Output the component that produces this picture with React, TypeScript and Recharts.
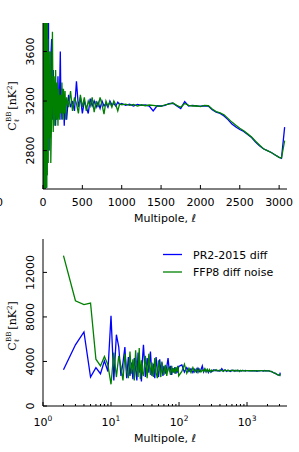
import React from "react";
import { LineChart, Line, XAxis, YAxis } from "recharts";

// multipole bins shared by both panels
const multipoles = [
  2, 3, 4, 5, 6, 7, 8, 9, 10, 11, 12, 13, 14, 15, 16, 17, 18, 19, 20, 21, 22, 23, 24, 25, 26, 27, 28, 29, 30,
  32, 34, 36, 38, 40, 42, 44, 46, 48, 50, 52, 54, 56, 58, 60,
  63, 66, 69, 72, 75, 78, 81, 84, 87, 90, 93, 96, 99,
  110, 120, 130, 140, 150, 160, 170, 180, 190, 200, 210, 220, 230, 240, 250, 260, 270, 280, 290, 300,
  325, 350, 375, 400, 425, 450, 475, 500, 525, 550, 575, 600, 625, 650, 675, 700, 725, 750, 775, 800,
  825, 850, 875, 900, 925, 950, 975, 1000,
  1050, 1100, 1150, 1200, 1250, 1300, 1350, 1400, 1450, 1500, 1550, 1600, 1650, 1700, 1750, 1800, 1850,
  1900, 1950, 2000, 2050, 2100, 2150, 2200, 2250, 2300, 2350, 2400, 2450, 2500, 2550, 2600, 2650, 2700,
  2750, 2800, 2850, 2900, 2950, 3000, 3030, 3070,
];

const pr2Diff = [
  3250, 5500, 6650, 2600, 3450, 2900, 4050, 3100, 8100, 2300, 6400, 5300, 2700, 3900, 5300, 2500, 4400,
  2700, 3900, 2400, 4300, 3300, 2300, 4800, 3000, 3700, 2200, 4200, 5500,
  2600, 4300, 3000, 4900, 2700, 3800, 2500, 4400, 3200, 2600, 4200, 3000, 3900, 2700, 3600,
  2900, 3500, 4300, 3100, 3600, 2800, 3400, 3000, 3500, 2900, 3300, 3000, 3550,
  3700, 3050, 3450, 3100, 3350, 3000, 3300, 3050, 3400, 3100, 3250, 3600, 3050, 3300, 3100, 3250, 3000,
  3200, 3100, 3050,
  3250, 3150, 3200, 3120, 3360, 3150, 3230, 3100, 3200, 3150, 3100, 3220, 3160, 3200, 3150, 3190, 3140,
  3200, 3160, 3180, 3150, 3200, 3170, 3180, 3160, 3190, 3170, 3180,
  3165, 3175, 3160, 3172, 3165, 3168, 3160, 3120, 3162, 3160, 3165, 3180, 3182, 3160, 3140, 3195, 3160,
  3165, 3160, 3158, 3162, 3160, 3130, 3110, 3100, 3080, 3050, 3015, 2990, 2970, 2955, 2930, 2905, 2870,
  2840, 2815, 2800, 2785, 2765, 2745, 2738, 2990,
];

const ffp8DiffNoise = [
  13500, 9450, 9100, 9250, 4200, 3600, 4450, 3700, 1950, 4800, 2600, 4500, 3500, 2300, 4700, 3100, 2500,
  4900, 2900, 4200, 2300, 5000, 3300, 2600, 5200, 2400, 4100, 3000, 2700,
  4500, 2500, 4700, 2800, 3900, 2600, 4300, 3000, 2500, 4100, 3300, 2600, 4000, 3100, 2800,
  3700, 2700, 3500, 3300, 2800, 3600, 3000, 3400, 2900, 3500, 3100, 3600, 2700,
  3100, 3760, 2950, 3400, 3000, 3450, 3050, 3350, 3000, 3300, 3050, 3250, 3100, 3350, 3050, 3300, 3100,
  3280, 3050, 3230,
  3150, 3280, 3120, 3230, 3180, 3100, 3250, 3150, 3230, 3120, 3200, 3160, 3230, 3110, 3200, 3150, 3230,
  3170, 3095, 3200, 3160, 3190, 3150, 3200, 3170, 3120, 3180, 3170,
  3175, 3165, 3172, 3160, 3170, 3162, 3168, 3165, 3160, 3158, 3170, 3175, 3185, 3165, 3150, 3180, 3165,
  3160, 3162, 3155, 3165, 3162, 3135, 3115, 3105, 3090, 3060, 3030, 3005, 2980, 2960, 2935, 2910, 2875,
  2845, 2815, 2800, 2785, 2765, 2745, 2740, 2880,
];

const linearTicks = [0, 500, 1000, 1500, 2000, 2500, 3000];
const linearYTicks = [2800, 3200, 3600];
const logTicks = [
  1, 2, 3, 4, 5, 6, 7, 8, 9, 10, 20, 30, 40, 50, 60, 70, 80, 90, 100, 200, 300, 400, 500, 600, 700,
  800, 900, 1000, 2000, 3000,
];
const decades = [1, 10, 100, 1000];
const logYTicks = [0, 4000, 8000, 12000];
const seriesNames = ["PR2-2015 diff", "FFP8 diff noise"];
const seriesColors = ["#0000ff", "#008000"];

const FONT = "DejaVu Sans";

const data = multipoles.map((ell, i) => ({
  ell,
  pr2: pr2Diff[i],
  ffp8: ffp8DiffNoise[i],
}));

const isMajor = (v: number, log: boolean) => !log || decades.includes(v);

const BottomTick = (props: any) => {
  const { x, y, payload, log } = props;
  const v = payload.value;
  const major = isMajor(v, log);
  return (
    <g>
      <line x1={x} y1={y} x2={x} y2={y - (major ? 4 : 2)} stroke="#000" />
      {major &&
        (log ? (
          <text x={x} y={y + 20} textAnchor="middle" fontFamily={FONT} fontSize={11} fill="#000">
            10
            <tspan fontSize={7.5} dy={-5}>
              {decades.indexOf(v)}
            </tspan>
          </text>
        ) : (
          <text x={x} y={y + 17} textAnchor="middle" fontFamily={FONT} fontSize={11} fill="#000">
            {v}
          </text>
        ))}
    </g>
  );
};

const TopTick = (props: any) => {
  const { x, y, payload, log } = props;
  const major = isMajor(payload.value, log);
  return <line x1={x} y1={y} x2={x} y2={y + (major ? 4 : 2)} stroke="#000" />;
};

const LeftTick = (props: any) => {
  const { x, y, payload } = props;
  const tx = x - 13;
  return (
    <g>
      <line x1={x} y1={y} x2={x + 4} y2={y} stroke="#000" />
      <text
        x={tx}
        y={y}
        dy="0.35em"
        transform={`rotate(-90, ${tx}, ${y})`}
        textAnchor="middle"
        fontFamily={FONT}
        fontSize={11}
        fill="#000"
      >
        {payload.value}
      </text>
    </g>
  );
};

const RightTick = (props: any) => {
  const { x, y } = props;
  return <line x1={x} y1={y} x2={x - 4} y2={y} stroke="#000" />;
};

interface PanelProps {
  height: number;
  top: number;
  bottom: number;
  log: boolean;
  xDomain: [number, number];
  yDomain: [number, number];
  xTicks: number[];
  yTicks: number[];
}

const Panel: React.FC<PanelProps> = ({ height, top, bottom, log, xDomain, yDomain, xTicks, yTicks }) => (
  <LineChart width={299} height={height} data={data} margin={{ top, right: 12, bottom, left: 0 }}>
    <XAxis
      dataKey="ell"
      type="number"
      scale={log ? "log" : "linear"}
      domain={xDomain}
      allowDataOverflow
      ticks={xTicks}
      interval={0}
      height={30}
      tickSize={0}
      tickMargin={0}
      tickLine={false}
      axisLine={{ stroke: "#000" }}
      tick={(p: any) => <BottomTick {...p} log={log} />}
    />
    <XAxis
      xAxisId="top"
      orientation="top"
      dataKey="ell"
      type="number"
      scale={log ? "log" : "linear"}
      domain={xDomain}
      allowDataOverflow
      ticks={xTicks}
      interval={0}
      height={0}
      tickSize={0}
      tickMargin={0}
      tickLine={false}
      axisLine={{ stroke: "#000" }}
      tick={(p: any) => <TopTick {...p} log={log} />}
    />
    <YAxis
      type="number"
      domain={yDomain}
      allowDataOverflow
      ticks={yTicks}
      interval={0}
      width={43}
      tickSize={0}
      tickMargin={0}
      tickLine={false}
      axisLine={{ stroke: "#000" }}
      tick={(p: any) => <LeftTick {...p} />}
    />
    <YAxis
      yAxisId="right"
      orientation="right"
      type="number"
      domain={yDomain}
      allowDataOverflow
      ticks={yTicks}
      interval={0}
      width={0}
      tickSize={0}
      tickMargin={0}
      tickLine={false}
      axisLine={{ stroke: "#000" }}
      tick={(p: any) => <RightTick {...p} />}
    />
    <Line
      dataKey="pr2"
      name={seriesNames[0]}
      type="linear"
      stroke={seriesColors[0]}
      strokeWidth={1.3}
      dot={false}
      isAnimationActive={false}
    />
    <Line
      dataKey="ffp8"
      name={seriesNames[1]}
      type="linear"
      stroke={seriesColors[1]}
      strokeWidth={1.3}
      dot={false}
      isAnimationActive={false}
    />
  </LineChart>
);

const YLabel = ({ cx, cy }: { cx: number; cy: number }) => (
  <text
    x={cx}
    y={cy}
    transform={`rotate(-90, ${cx}, ${cy})`}
    textAnchor="middle"
    fontFamily="DejaVu Serif"
    fontSize={11}
    fill="#000"
  >
    C
    <tspan fontSize={7} dy={3}>
      ℓ
    </tspan>
    <tspan fontSize={7} dx={-3} dy={-8}>
      BB
    </tspan>
    <tspan fontSize={11} dx={2} dy={5}>
      [nK
    </tspan>
    <tspan fontSize={7} dy={-4}>
      2
    </tspan>
    <tspan fontSize={11} dy={4}>
      ]
    </tspan>
  </text>
);

export default function App() {
  return (
    <div style={{ position: "absolute", left: 0, top: 0, width: 299, height: 452, background: "#fff" }}>
      <div style={{ position: "absolute", left: 0, top: 0 }}>
        <Panel
          height={230}
          top={23}
          bottom={11}
          log={false}
          xDomain={[0, 3100]}
          yDomain={[2490, 3830]}
          xTicks={linearTicks}
          yTicks={linearYTicks}
        />
      </div>
      <div style={{ position: "absolute", left: 0, top: 230 }}>
        <Panel
          height={222}
          top={9}
          bottom={16}
          log={true}
          xDomain={[1, 3870]}
          yDomain={[0, 15000]}
          xTicks={logTicks}
          yTicks={logYTicks}
        />
      </div>
      <svg
        width={299}
        height={452}
        style={{ position: "absolute", left: 0, top: 0, pointerEvents: "none", overflow: "visible" }}
      >
        <text x={-4} y={206} fontFamily={FONT} fontSize={11} fill="#000">
          0
        </text>
        <YLabel cx={16} cy={106} />
        <YLabel cx={16} cy={326} />
        <text x={165} y={222} textAnchor="middle" fontFamily={FONT} fontSize={11} fill="#000">
          Multipole, ℓ
        </text>
        <text x={165} y={442} textAnchor="middle" fontFamily={FONT} fontSize={11} fill="#000">
          Multipole, ℓ
        </text>
        {seriesNames.map((name, i) => (
          <g key={name}>
            <line x1={163} y1={254.5 + i * 17.5} x2={182} y2={254.5 + i * 17.5} stroke={seriesColors[i]} strokeWidth={1.3} />
            <text x={193} y={258.5 + i * 17.5} fontFamily={FONT} fontSize={11} fill="#000">
              {name}
            </text>
          </g>
        ))}
      </svg>
    </div>
  );
}
